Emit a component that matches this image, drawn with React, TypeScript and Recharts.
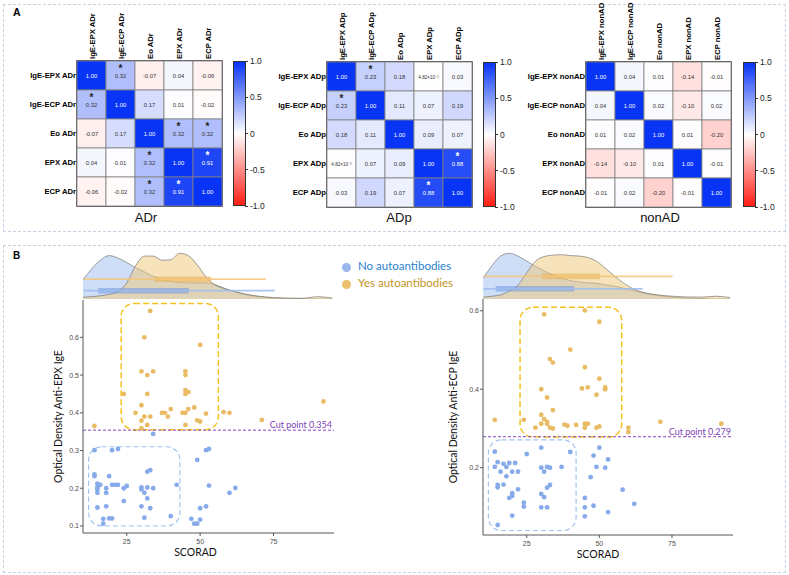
import React from 'react';
import {
  Area,
  AreaChart,
  ReferenceArea,
  ReferenceLine,
  Scatter,
  ScatterChart,
  XAxis,
  YAxis,
} from 'recharts';

// ---------- panel A : correlation matrices ----------
const adrVars = ['IgE-EPX ADr', 'IgE-ECP ADr', 'Eo ADr', 'EPX ADr', 'ECP ADr'];
const adpVars = ['IgE-EPX ADp', 'IgE-ECP ADp', 'Eo ADp', 'EPX ADp', 'ECP ADp'];
const nonadVars = ['IgE-EPX nonAD', 'IgE-ECP nonAD', 'Eo nonAD', 'EPX nonAD', 'ECP nonAD'];

const adrCorr = [
  [1.0, 0.32, -0.07, 0.04, -0.06],
  [0.32, 1.0, 0.17, 0.01, -0.02],
  [-0.07, 0.17, 1.0, 0.32, 0.32],
  [0.04, 0.01, 0.32, 1.0, 0.91],
  [-0.06, -0.02, 0.32, 0.91, 1.0],
];
const adrSig = [
  [0, 1, 0, 0, 0],
  [1, 0, 0, 0, 0],
  [0, 0, 0, 1, 1],
  [0, 0, 1, 0, 1],
  [0, 0, 1, 1, 0],
];
const adpCorr = [
  [1.0, 0.23, 0.18, 0.00482, 0.03],
  [0.23, 1.0, 0.11, 0.07, 0.19],
  [0.18, 0.11, 1.0, 0.09, 0.07],
  [0.00482, 0.07, 0.09, 1.0, 0.88],
  [0.03, 0.19, 0.07, 0.88, 1.0],
];
const adpSig = [
  [0, 1, 0, 0, 0],
  [1, 0, 0, 0, 0],
  [0, 0, 0, 0, 0],
  [0, 0, 0, 0, 1],
  [0, 0, 0, 1, 0],
];
const nonadCorr = [
  [1.0, 0.04, 0.01, -0.14, -0.01],
  [0.04, 1.0, 0.02, -0.1, 0.02],
  [0.01, 0.02, 1.0, 0.01, -0.2],
  [-0.14, -0.1, 0.01, 1.0, -0.01],
  [-0.01, 0.02, -0.2, -0.01, 1.0],
];
const nonadSig = [
  [0, 0, 0, 0, 0],
  [0, 0, 0, 0, 0],
  [0, 0, 0, 0, 0],
  [0, 0, 0, 0, 0],
  [0, 0, 0, 0, 0],
];
const barTicks = [1.0, 0.5, 0, -0.5, -1.0];

// ---------- panel B : scatter plots ----------
const epxNoScorad = [34, 14, 20, 22, 49, 52, 53, 14, 14, 19, 32, 33, 15, 16, 15, 15, 15, 18, 18, 20, 21, 22, 24, 25, 30, 30, 32, 34, 31, 32, 24, 42, 15, 18, 30, 33, 17, 17, 19, 20, 31, 40, 47, 48, 49, 50, 50, 52, 53, 60, 62];
const epxNoOD = [0.344, 0.301, 0.301, 0.304, 0.275, 0.301, 0.304, 0.237, 0.232, 0.232, 0.244, 0.248, 0.212, 0.209, 0.202, 0.197, 0.188, 0.2, 0.188, 0.209, 0.209, 0.209, 0.2, 0.206, 0.202, 0.197, 0.202, 0.2, 0.188, 0.173, 0.166, 0.209, 0.149, 0.152, 0.152, 0.147, 0.119, 0.106, 0.12, 0.12, 0.122, 0.126, 0.119, 0.106, 0.106, 0.117, 0.147, 0.152, 0.207, 0.188, 0.201];
const epxYesScorad = [33, 31, 50, 30, 34, 32, 45, 45, 24, 32, 45, 45, 46, 30, 40, 46, 48, 92, 28, 31, 33, 37, 38, 39, 44, 45, 52, 49, 50, 58, 60, 30, 30, 32, 45, 14, 71];
const epxYesOD = [0.67, 0.6, 0.58, 0.51, 0.51, 0.5, 0.51, 0.5, 0.45, 0.45, 0.46, 0.45, 0.455, 0.42, 0.41, 0.41, 0.414, 0.43, 0.4, 0.39, 0.39, 0.4, 0.4, 0.39, 0.4, 0.4, 0.398, 0.38, 0.377, 0.402, 0.4, 0.379, 0.359, 0.368, 0.368, 0.365, 0.381];

const ecpNoScorad = [14, 25, 30, 40, 50, 48, 53, 15, 17, 18, 19, 21, 14, 18, 16, 20, 22, 30, 32, 33, 31, 37, 49, 52, 47, 15, 15, 17, 22, 20, 20, 19, 30, 31, 32, 33, 24, 24, 30, 32, 45, 45, 48, 45, 53, 58, 62, 20, 15];
const ecpNoOD = [0.241, 0.235, 0.251, 0.24, 0.251, 0.231, 0.221, 0.214, 0.21, 0.202, 0.212, 0.212, 0.202, 0.178, 0.19, 0.19, 0.19, 0.2, 0.202, 0.2, 0.19, 0.202, 0.202, 0.2, 0.176, 0.156, 0.15, 0.157, 0.145, 0.135, 0.128, 0.123, 0.133, 0.125, 0.149, 0.156, 0.111, 0.101, 0.099, 0.099, 0.123, 0.099, 0.103, 0.076, 0.087, 0.144, 0.108, 0.078, 0.054];
const ecpYesScorad = [31, 45, 50, 40, 33, 34, 45, 50, 30, 44, 46, 52, 52, 49, 32, 34, 30, 31, 32, 32, 30, 33, 34, 28, 24, 14, 38, 39, 42, 45, 46, 45, 49, 50, 60, 60, 71, 92];
const ecpYesOD = [0.591, 0.601, 0.572, 0.501, 0.477, 0.468, 0.456, 0.427, 0.4, 0.402, 0.405, 0.405, 0.4, 0.386, 0.379, 0.347, 0.335, 0.324, 0.317, 0.312, 0.312, 0.302, 0.3, 0.302, 0.322, 0.322, 0.31, 0.307, 0.309, 0.312, 0.312, 0.302, 0.302, 0.305, 0.302, 0.291, 0.317, 0.312];

const epxCut = 0.354;
const ecpCut = 0.279;

// marginal densities (relative height) read on a shared SCORAD grid
const densX = [10, 13, 16, 19, 22, 25, 28, 31, 34, 37, 40, 43, 46, 49, 52, 55, 58, 62, 66, 70, 75, 80, 85, 90, 95];
const epxNoDens = [0.41, 0.65, 0.84, 0.94, 0.89, 0.79, 0.68, 0.59, 0.49, 0.43, 0.38, 0.36, 0.35, 0.35, 0.35, 0.31, 0.24, 0.15, 0.09, 0.05, 0.02, 0.01, 0.005, 0, 0];
const epxYesDens = [0.04, 0.05, 0.07, 0.1, 0.16, 0.35, 0.72, 0.93, 0.93, 0.84, 0.85, 0.99, 0.94, 0.74, 0.48, 0.31, 0.23, 0.16, 0.1, 0.06, 0.03, 0.02, 0.015, 0.05, 0.02];
const ecpNoDens = [0.45, 0.72, 0.93, 0.99, 0.93, 0.82, 0.71, 0.61, 0.52, 0.45, 0.4, 0.37, 0.35, 0.34, 0.31, 0.28, 0.24, 0.18, 0.12, 0.08, 0.04, 0.02, 0.01, 0, 0];
const ecpYesDens = [0.04, 0.06, 0.09, 0.17, 0.3, 0.57, 0.82, 0.92, 0.95, 0.96, 0.94, 0.93, 0.9, 0.82, 0.67, 0.51, 0.36, 0.21, 0.13, 0.09, 0.06, 0.045, 0.04, 0.06, 0.03];

// horizontal box plots: [whisker low, q1, q3, whisker high]
const epxNoBox = [10.3, 15.3, 46.2, 75.4];
const epxYesBox = [10.3, 34.4, 53.7, 72.4];
const ecpNoBox = [10.1, 14.3, 41.3, 64.9];
const ecpYesBox = [10.1, 30.2, 50.2, 75.2];

// highlighted clusters: [x1, x2, y1, y2]
const epxYesRegion = [23.1, 56.2, 0.355, 0.69];
const epxNoRegion = [12.0, 43.1, 0.1, 0.31];
const ecpYesRegion = [22.7, 57.7, 0.278, 0.609];
const ecpNoRegion = [11.8, 42.0, 0.04, 0.271];

const FONT = '"Liberation Sans", Arial, sans-serif';
const SANS = 'Lato, "Open Sans", sans-serif';
const CELL = 29;
const BLUE = '#86aaea';
const GOLD = '#e9bb65';

const zip = (xs: number[], ys: number[]) => xs.map((x, i) => ({ x, y: ys[i] }));
const dens = (no: number[], yes: number[]) => densX.map((x, i) => ({ x, no: no[i], yes: yes[i] }));

const corrColor = (v: number) => {
  const t = Math.min(1, Math.abs(v));
  const end = v >= 0 ? [8, 52, 245] : [255, 30, 20];
  const c = end.map((e) => Math.round(255 + (e - 255) * t));
  return `rgb(${c.join(',')})`;
};

const fmtCorr = (v: number) =>
  v !== 0 && Math.abs(v) < 0.01 ? `${(v * 1000).toFixed(2)}×10⁻³` : v.toFixed(2);

function CorrMatrix({ vars, corr, sig, left, top, barLeft, title, titleX }: any) {
  const cells = corr.flatMap((row: number[], r: number) =>
    row.map((v, c) => ({ col: c + 0.5, row: r + 0.5, v, sig: sig[r][c] }))
  );
  const ticks = vars.map((_: string, i: number) => i + 0.5);

  const cellShape = (p: any) => {
    const { cx, cy, payload } = p;
    const dark = payload.v > 0.6;
    const txt = fmtCorr(payload.v);
    return (
      <g>
        <rect x={cx - CELL / 2} y={cy - CELL / 2} width={CELL} height={CELL} fill={corrColor(payload.v)} stroke="#808080" strokeWidth={0.8} />
        <text x={cx} y={cy + 2} textAnchor="middle" fontSize={txt.length > 5 ? 4.6 : 5.8} fill={dark ? '#fff' : '#333'} fontFamily={FONT}>
          {txt}
        </text>
        {payload.sig ? (
          <text x={cx} y={cy - 4} textAnchor="middle" fontSize={10} fontWeight={700} fill={dark ? '#fff' : '#222'} fontFamily={FONT}>
            *
          </text>
        ) : null}
      </g>
    );
  };

  const colTick = (p: any) => (
    <text
      x={p.x + 3}
      y={p.y}
      transform={`rotate(-90 ${p.x + 3} ${p.y})`}
      textAnchor="start"
      fontSize={7.7}
      fontWeight={700}
      fill="#000"
      fontFamily={FONT}
    >
      {vars[Math.floor(p.payload.value)]}
    </text>
  );

  const rowTick = (p: any) => (
    <text x={p.x} y={p.y + 2.8} textAnchor="end" fontSize={7.7} fontWeight={700} fill="#000" fontFamily={FONT}>
      {vars[Math.floor(p.payload.value)]}
    </text>
  );

  const plotTop = top + 61;
  return (
    <>
      <div style={{ position: 'absolute', left, top }}>
        <ScatterChart width={70 + 5 * CELL + 2} height={61 + 5 * CELL + 2} margin={{ top: 0, right: 2, bottom: 2, left: 0 }}>
          <XAxis type="number" dataKey="col" domain={[0, 5]} ticks={ticks} interval={0} orientation="top" height={61} axisLine={false} tickSize={0} tickMargin={2} tick={colTick} />
          <YAxis type="number" dataKey="row" domain={[0, 5]} reversed ticks={ticks} interval={0} width={70} axisLine={false} tickSize={0} tickMargin={1} tick={rowTick} />
          <Scatter data={cells} shape={cellShape} isAnimationActive={false} />
          <ReferenceArea x1={0} x2={5} y1={0} y2={5} fill="none" fillOpacity={0} stroke="#222" strokeWidth={1.4} />
        </ScatterChart>
      </div>
      {/* colour bar */}
      <div
        style={{
          position: 'absolute',
          left: barLeft,
          top: plotTop,
          width: 13,
          height: 145,
          boxSizing: 'border-box',
          border: '1px solid #333',
          background: 'linear-gradient(to bottom, rgb(8,52,245), #ffffff 50%, rgb(255,30,20))',
        }}
      />
      {barTicks.map((t) => {
        const y = plotTop + ((1 - t) / 2) * 145;
        return (
          <React.Fragment key={t}>
            <div style={{ position: 'absolute', left: barLeft + 12, top: y - 0.5, width: 3, height: 1, background: '#333' }} />
            <div style={{ position: 'absolute', left: barLeft + 17, top: y - 6, height: 12, lineHeight: '12px', fontSize: 8.5, fontFamily: FONT, color: '#222' }}>
              {t === 0 ? '0' : t.toFixed(1)}
            </div>
          </React.Fragment>
        );
      })}
      <div style={{ position: 'absolute', left: titleX - 40, width: 80, top: 210, textAlign: 'center', fontSize: 13, fontFamily: FONT, color: '#111' }}>
        {title}
      </div>
    </>
  );
}

const dot = (fill: string) => (p: any) => <circle cx={p.cx} cy={p.cy} r={2.4} fill={fill} />;

const roundBox = (color: string, w: number, dash: string) => (p: any) => (
  <rect x={p.x} y={p.y} width={p.width} height={p.height} rx={13} ry={13} fill="none" stroke={color} strokeWidth={w} strokeDasharray={dash} />
);

function ScatterPanel(props: any) {
  const { left, top, yAxisW, plotW, plotH, xDomain, yDomain, yTicks, yLabel, no, yes, cut, yesRegion, noRegion, labelDx } = props;
  const tickStyle = { fontSize: 7, fill: '#4d4d4d', fontFamily: FONT };
  return (
    <div style={{ position: 'absolute', left, top }}>
      <ScatterChart width={yAxisW + plotW} height={5 + plotH + 30} margin={{ top: 5, right: 0, bottom: 0, left: 0 }}>
        <XAxis
          type="number"
          dataKey="x"
          domain={xDomain}
          ticks={[25, 50, 75]}
          allowDataOverflow
          height={30}
          stroke="#555"
          tickSize={3}
          tickMargin={3}
          tick={tickStyle}
          label={{ value: 'SCORAD', position: 'insideBottom', offset: 7, dx: labelDx, fontSize: 10.5, fill: '#111', fontFamily: SANS }}
        />
        <YAxis
          type="number"
          dataKey="y"
          domain={yDomain}
          ticks={yTicks}
          allowDataOverflow
          width={yAxisW}
          stroke="#555"
          tickSize={3}
          tickMargin={1}
          tick={tickStyle}
          tickFormatter={(v: number) => v.toFixed(1)}
          label={{ value: yLabel, angle: -90, position: 'center', fontSize: 10.5, fill: '#111', fontFamily: SANS }}
        />
        <ReferenceArea x1={yesRegion[0]} x2={yesRegion[1]} y1={yesRegion[2]} y2={yesRegion[3]} ifOverflow="visible" shape={roundBox('#f5c21e', 1.5, '6 3')} />
        <ReferenceArea x1={noRegion[0]} x2={noRegion[1]} y1={noRegion[2]} y2={noRegion[3]} ifOverflow="visible" shape={roundBox('#9fc3ec', 1.2, '5 3')} />
        <ReferenceLine
          y={cut}
          stroke="#8a45c2"
          strokeDasharray="3 2"
          label={{ value: `Cut point ${cut}`, position: 'insideBottomRight', offset: 2, fill: '#7b3fb5', fontSize: 9, fontFamily: SANS }}
        />
        <Scatter data={yes} shape={dot(GOLD)} isAnimationActive={false} />
        <Scatter data={no} shape={dot(BLUE)} isAnimationActive={false} />
      </ScatterChart>
    </div>
  );
}

function DensityStrip({ left, top, width, xDomain, data, noBox, yesBox, noY, yesY }: any) {
  return (
    <div style={{ position: 'absolute', left, top }}>
      <AreaChart width={width} height={48} data={data} margin={{ top: 0, right: 0, bottom: 0, left: 0 }}>
        <XAxis type="number" dataKey="x" domain={xDomain} allowDataOverflow hide />
        <YAxis type="number" domain={[0, 1.04]} allowDataOverflow hide />
        <Area type="monotone" dataKey="no" fill="#a0bef0" fillOpacity={0.5} stroke="#777" strokeWidth={0.7} isAnimationActive={false} />
        <Area type="monotone" dataKey="yes" fill="#f0c878" fillOpacity={0.5} stroke="#777" strokeWidth={0.7} isAnimationActive={false} />
        <ReferenceLine segment={[{ x: noBox[0], y: noY }, { x: noBox[3], y: noY }]} ifOverflow="visible" stroke="#9dbcef" strokeWidth={1.8} strokeOpacity={0.85} />
        <ReferenceArea x1={noBox[1]} x2={noBox[2]} y1={noY - 0.06} y2={noY + 0.06} ifOverflow="visible" fill="#6e98e4" fillOpacity={0.55} stroke="none" />
        <ReferenceLine segment={[{ x: yesBox[0], y: yesY }, { x: yesBox[3], y: yesY }]} ifOverflow="visible" stroke="#f2c67a" strokeWidth={1.8} strokeOpacity={0.85} />
        <ReferenceArea x1={yesBox[1]} x2={yesBox[2]} y1={yesY - 0.06} y2={yesY + 0.06} ifOverflow="visible" fill="#eab257" fillOpacity={0.6} stroke="none" />
      </AreaChart>
    </div>
  );
}

const panelBorder = '1px dashed #c6d1e2';

export default function App() {
  return (
    <div style={{ position: 'absolute', left: 0, top: 0, width: 789, height: 575, background: '#fff', fontFamily: FONT }}>
      <div style={{ position: 'absolute', left: 3, top: 4, width: 783, height: 228, border: panelBorder, boxSizing: 'border-box' }} />
      <div style={{ position: 'absolute', left: 3, top: 245, width: 783, height: 328, border: panelBorder, boxSizing: 'border-box' }} />
      <div style={{ position: 'absolute', left: 13, top: 6, fontSize: 10.5, fontWeight: 700 }}>A</div>
      <div style={{ position: 'absolute', left: 13, top: 250, fontSize: 10, fontWeight: 700 }}>B</div>

      <CorrMatrix vars={adrVars} corr={adrCorr} sig={adrSig} left={7} top={0} barLeft={233} title="ADr" titleX={146} />
      <CorrMatrix vars={adpVars} corr={adpCorr} sig={adpSig} left={257} top={1} barLeft={483} title="ADp" titleX={399} />
      <CorrMatrix vars={nonadVars} corr={nonadCorr} sig={nonadSig} left={516} top={1} barLeft={743} title="nonAD" titleX={660} />

      <DensityStrip left={83} top={251} width={251} xDomain={[10.1, 95.6]} data={dens(epxNoDens, epxYesDens)} noBox={epxNoBox} yesBox={epxYesBox} noY={0.18} yesY={0.43} />
      <DensityStrip left={483} top={251} width={250} xDomain={[9.95, 96.0]} data={dens(ecpNoDens, ecpYesDens)} noBox={ecpNoBox} yesBox={ecpYesBox} noY={0.22} yesY={0.49} />

      <ScatterPanel
        left={33}
        top={295}
        yAxisW={50}
        plotW={251}
        plotH={233}
        xDomain={[10.1, 95.6]}
        yDomain={[0.0814, 0.699]}
        yTicks={[0.1, 0.2, 0.3, 0.4, 0.5, 0.6]}
        yLabel="Optical Density Anti-EPX IgE"
        no={zip(epxNoScorad, epxNoOD)}
        yes={zip(epxYesScorad, epxYesOD)}
        cut={epxCut}
        yesRegion={epxYesRegion}
        noRegion={epxNoRegion}
        labelDx={-13}
      />
      <ScatterPanel
        left={423}
        top={294}
        yAxisW={60}
        plotW={250}
        plotH={236}
        xDomain={[9.95, 96.0]}
        yDomain={[0.0285, 0.63]}
        yTicks={[0.2, 0.4, 0.6]}
        yLabel="Optical Density Anti-ECP IgE"
        no={zip(ecpNoScorad, ecpNoOD)}
        yes={zip(ecpYesScorad, ecpYesOD)}
        cut={ecpCut}
        yesRegion={ecpYesRegion}
        noRegion={ecpNoRegion}
        labelDx={-10}
      />

      {/* legend */}
      <div style={{ position: 'absolute', left: 341.5, top: 262.5, width: 9, height: 9, borderRadius: '50%', background: '#9ab8ec' }} />
      <div style={{ position: 'absolute', left: 358, top: 259, fontSize: 11.5, fontFamily: SANS, color: '#2a7fd0' }}>No autoantibodies</div>
      <div style={{ position: 'absolute', left: 341.5, top: 279.5, width: 9, height: 9, borderRadius: '50%', background: '#ebc06c' }} />
      <div style={{ position: 'absolute', left: 358, top: 276, fontSize: 11.5, fontFamily: SANS, color: '#c49426' }}>Yes autoantibodies</div>
    </div>
  );
}
